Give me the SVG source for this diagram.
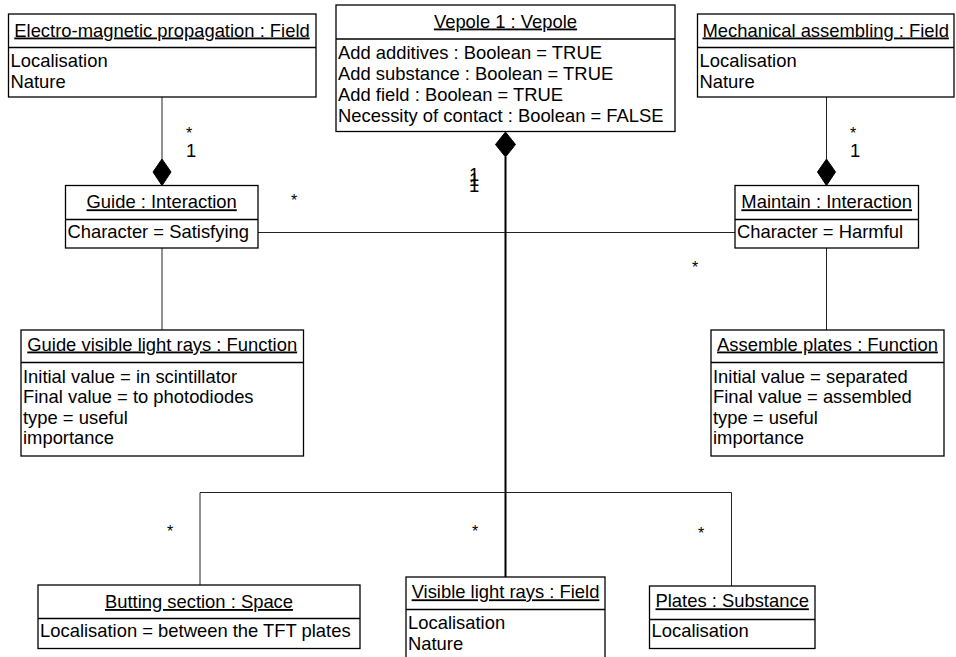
<svg xmlns="http://www.w3.org/2000/svg" width="956" height="657" viewBox="0 0 956 657">
<style>
  .box { fill: #ffffff; stroke: #000000; stroke-width: 1.3; }
  .div { stroke: #000000; stroke-width: 1.3; }
  text { font-family: "Liberation Sans", Arial, sans-serif; font-size: 18.4px; fill: #000000; }
  .hd { text-anchor: middle; text-decoration: underline; }
  .conn { stroke: #222222; stroke-width: 1; fill: none; }
  .thick { stroke: #000000; stroke-width: 2; fill: none; }
  .dia { fill: #000000; stroke: #000000; stroke-width: 1; }
  .lbl { font-size: 16px; }
</style>
<g id="connectors">
  <line class="conn" x1="162" y1="97" x2="162" y2="159"/>
  <polygon class="dia" points="162,159 171,172 162,185.5 153,172"/>
  <line class="conn" x1="826.5" y1="97" x2="826.5" y2="159"/>
  <polygon class="dia" points="826.5,159 835.5,172 826.5,185.5 817.5,172"/>
  <line class="conn" x1="258" y1="232.5" x2="735" y2="232.5"/>
  <line class="conn" x1="162" y1="248" x2="162" y2="330"/>
  <line class="conn" x1="826.5" y1="248" x2="826.5" y2="330"/>
  <polygon class="dia" points="505.5,132 515.5,144.5 505.5,157 495.5,144.5"/>
  <line class="thick" x1="505.5" y1="157" x2="505.5" y2="577"/>
  <polyline class="conn" points="200,585 200,492.5 731.5,492.5 731.5,586"/>
  <text class="lbl" x="186" y="139">*</text>
  <text x="186" y="157">1</text>
  <text class="lbl" x="850" y="139">*</text>
  <text x="850" y="157">1</text>
  <text class="lbl" x="291" y="206">*</text>
  <text class="lbl" x="692" y="273">*</text>
  <text x="469" y="181">1<tspan x="469" y="186">1</tspan><tspan x="469" y="191.5">1</tspan></text>
  <text class="lbl" x="167" y="537">*</text>
  <text class="lbl" x="472" y="537">*</text>
  <text class="lbl" x="698" y="539">*</text>
</g>
<g id="em">
  <rect class="box" x="8.5" y="14" width="307.5" height="83"/>
  <line class="div" x1="8.5" y1="47.5" x2="316" y2="47.5"/>
  <text class="hd" x="162" y="36.5">Electro-magnetic propagation : Field</text>
  <text x="10.5" y="66.5">Localisation</text>
  <text x="10.5" y="88">Nature</text>
</g>
<g id="vepole">
  <rect class="box" x="336" y="5" width="339" height="126.5"/>
  <line class="div" x1="336" y1="39" x2="675" y2="39"/>
  <text class="hd" x="505.5" y="27.5">Vepole 1 : Vepole</text>
  <text x="338" y="59.3">Add additives : Boolean = TRUE</text>
  <text x="338" y="80.1">Add substance : Boolean = TRUE</text>
  <text x="338" y="100.9">Add field : Boolean = TRUE</text>
  <text x="338" y="121.7">Necessity of contact : Boolean = FALSE</text>
</g>
<g id="mech">
  <rect class="box" x="697.5" y="14" width="256.5" height="83"/>
  <line class="div" x1="697.5" y1="47.5" x2="954" y2="47.5"/>
  <text class="hd" x="825.7" y="36.5">Mechanical assembling : Field</text>
  <text x="699.5" y="66.5">Localisation</text>
  <text x="699.5" y="88">Nature</text>
</g>
<g id="guide">
  <rect class="box" x="65.5" y="185.5" width="192.5" height="62.5"/>
  <line class="div" x1="65.5" y1="219.5" x2="258" y2="219.5"/>
  <text class="hd" x="161.7" y="208.3">Guide : Interaction</text>
  <text x="67.5" y="238">Character = Satisfying</text>
</g>
<g id="maintain">
  <rect class="box" x="735" y="185.5" width="183.5" height="62.5"/>
  <line class="div" x1="735" y1="219.5" x2="918.5" y2="219.5"/>
  <text class="hd" x="826.7" y="208.3">Maintain : Interaction</text>
  <text x="737" y="238">Character = Harmful</text>
</g>
<g id="guide-func">
  <rect class="box" x="21" y="330" width="282.5" height="126"/>
  <line class="div" x1="21" y1="362.5" x2="303.5" y2="362.5"/>
  <text class="hd" x="162.2" y="350.5">Guide visible light rays : Function</text>
  <text x="23" y="382.7">Initial value = in scintillator</text>
  <text x="23" y="403.3">Final value = to photodiodes</text>
  <text x="23" y="423.8">type = useful</text>
  <text x="23" y="444.3">importance</text>
</g>
<g id="assemble">
  <rect class="box" x="711" y="330" width="233" height="126"/>
  <line class="div" x1="711" y1="362.5" x2="944" y2="362.5"/>
  <text class="hd" x="827.5" y="350.5">Assemble plates : Function</text>
  <text x="713" y="382.7">Initial value = separated</text>
  <text x="713" y="403.3">Final value = assembled</text>
  <text x="713" y="423.8">type = useful</text>
  <text x="713" y="444.3">importance</text>
</g>
<g id="butting">
  <rect class="box" x="38" y="585" width="322" height="63.5"/>
  <line class="div" x1="38" y1="618.5" x2="360" y2="618.5"/>
  <text class="hd" x="199" y="608">Butting section : Space</text>
  <text x="40" y="636.7">Localisation = between the TFT plates</text>
</g>
<g id="visible">
  <rect class="box" x="406" y="577" width="199" height="90"/>
  <line class="div" x1="406" y1="609.5" x2="605" y2="609.5"/>
  <text class="hd" x="505.5" y="598.3">Visible light rays : Field</text>
  <text x="408" y="628.5">Localisation</text>
  <text x="408" y="649.5">Nature</text>
</g>
<g id="plates">
  <rect class="box" x="649.5" y="586" width="165.5" height="62.5"/>
  <line class="div" x1="649.5" y1="619.5" x2="815" y2="619.5"/>
  <text class="hd" x="732.2" y="607.3">Plates : Substance</text>
  <text x="651.5" y="636.7">Localisation</text>
</g>
</svg>
